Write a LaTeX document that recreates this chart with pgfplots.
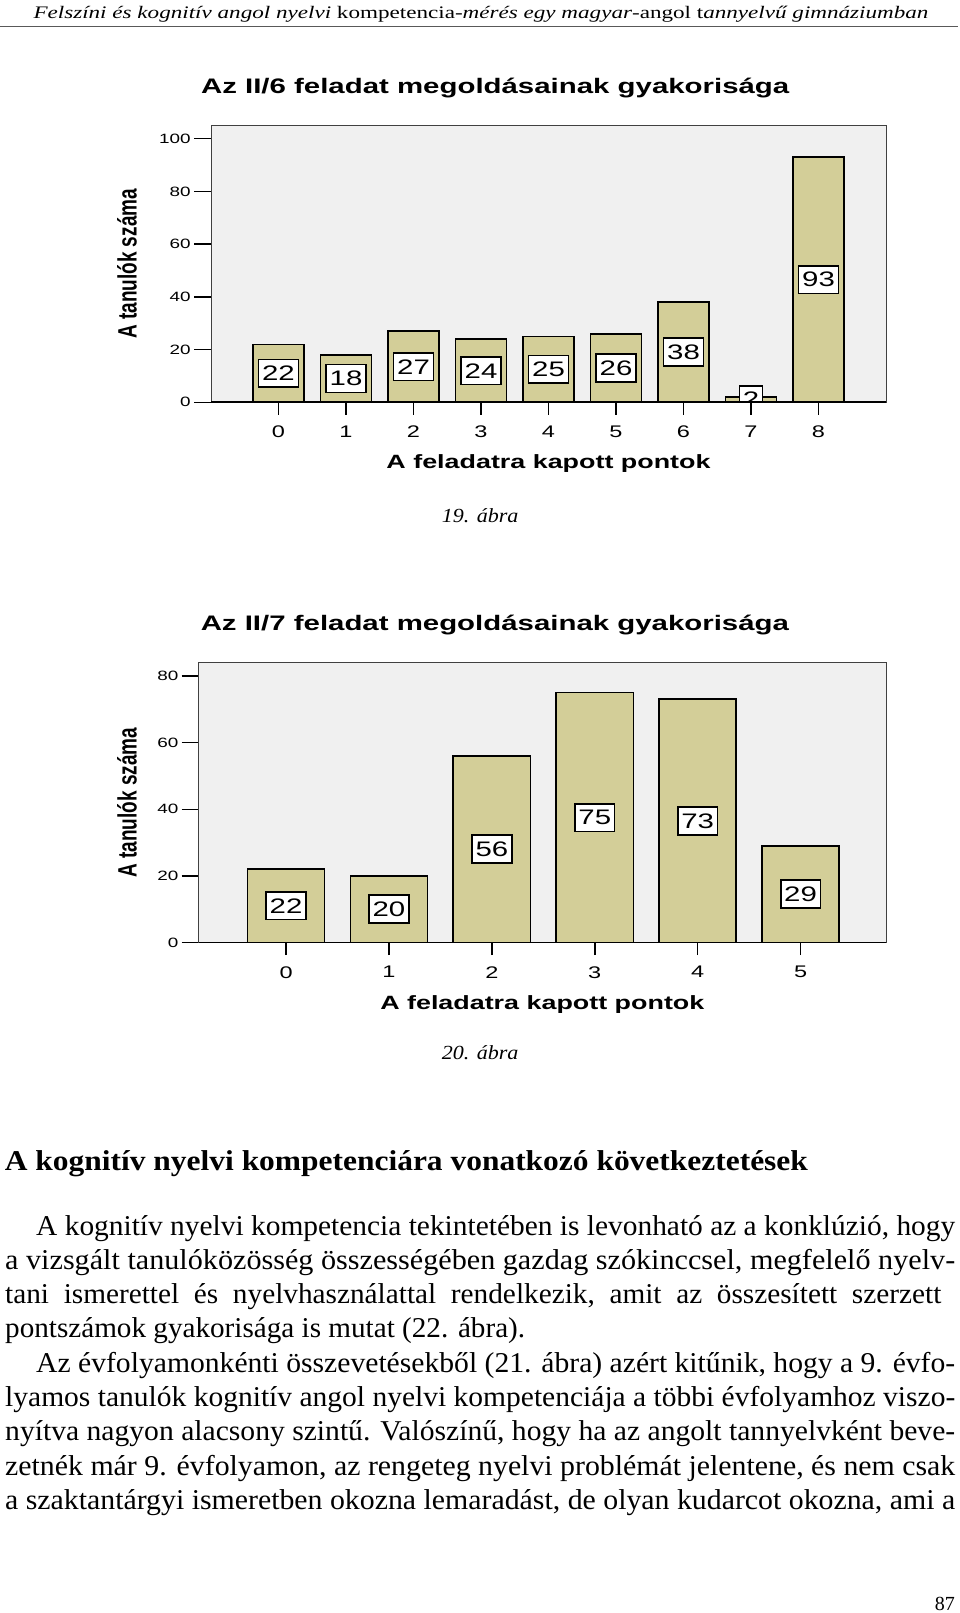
\documentclass[border=0pt]{standalone}
\usepackage{fontspec}
\usepackage{graphicx}
\usepackage{pgfplots}
\usepackage{pgfplotstable}
\pgfplotsset{compat=1.18}
\setmainfont{Liberation Serif}
\newfontfamily\ar[FakeStretch=1.4]{Liberation Sans}
\newfontfamily\arR[FakeStretch=0.714]{Liberation Sans}
\definecolor{bartan}{RGB}{211,206,152}
\definecolor{plotbg}{RGB}{240,240,240}
\newlength\fitlen
\newcommand\fitto[2]{\settowidth{\fitlen}{#2}\scalebox{\fpeval{(#1)/(\the\fitlen)}}[1]{#2}}
\newcommand\body{\fontsize{28.7}{34}\selectfont}

\pgfplotstableread{
x n
0 22
1 18
2 27
3 24
4 25
5 26
6 38
7 2
8 93
}\dataA
\pgfplotstableread{
x n
0 22
1 20
2 56
3 75
4 73
5 29
}\dataB

\pgfplotsset{
  spss/.style={
    scale only axis, anchor=south west,
    axis background/.style={fill=plotbg},
    axis line style={black!75, line width=0.8pt},
    xtick pos=bottom, ytick pos=left,
    tick align=outside,
    xtick style={black, line width=1.6pt, /pgfplots/major tick length=12.5pt},
    ytick style={black, line width=1.3pt, /pgfplots/major tick length=17pt},
    /pgf/number format/assume math mode=true,
    xticklabel style={font=\ar\fontsize{16.8}{16.8}\selectfont, yshift=-16pt},
    yticklabel style={font=\ar\fontsize{13.5}{13.5}\selectfont, xshift=-12.5pt},
    ymin=0,
    xlabel={A feladatra kapott pontok},
    ylabel={A tanulók száma},
    every axis x label/.style={font=\ar\bfseries\fontsize{19.2}{19.2}\selectfont, anchor=center},
    every axis y label/.style={font=\arR\bfseries\fontsize{26.6}{26.6}\selectfont, rotate=90, anchor=center},
    every axis title/.style={font=\ar\bfseries\fontsize{21}{21}\selectfont, anchor=center},
    baseline line/.style={extra description/.code={%
      ##1%
      \draw[black, line width=1.8pt] (axis description cs:0,0) -- (axis description cs:1,0);}},
  },
  barsty/.style={ybar, bar width=#1, fill=bartan, draw=black, line width=1.6pt},
  lblsty/.style={only marks, mark=*, mark size=0pt, color=black, nodes near coords, point meta=explicit,
    every node near coord/.append style={anchor=center, fill=white, draw=black, text=black, line width=1.6pt,
      inner xsep=3.5pt, inner ysep=6.5pt, font=\ar\fontsize{21}{21}\selectfont}},
}

\begin{document}
\begin{tikzpicture}
\path[use as bounding box] (0pt,0pt) rectangle (960pt,-1613pt);

% running header
\node[anchor=base west, inner sep=0pt] at (33.3pt,-18.3pt)
  {\fitto{895pt}{\fontsize{17.6}{20}\selectfont\itshape Felszíni és kognitív angol nyelvi \upshape kompetencia-\itshape mérés egy magyar\upshape -angol t\itshape annyelvű gimnáziumban}};
\draw[line width=1.6pt, black!65] (0pt,-26.5pt) -- (958pt,-26.5pt);

% ---------- Chart 19 ----------
\begin{axis}[spss,
  at={(211pt,-402.3pt)}, width=675pt, height=276.8pt,
  xmin=-1, xmax=9, ymax=105,
  xtick={0,1,...,8}, ytick={0,20,...,100},
  title={Az II/6 feladat megoldásainak gyakorisága},
  title style={at={(axis description cs:0.421,1.134)}},
  xlabel style={at={(axis description cs:0.5,-0.223)}},
  ylabel style={at={(axis description cs:-0.1244,0.5)}},
  % the label of the bar at 7 is cut off by the plot area's lower edge
  baseline line={\fill[white] (axis cs:6.6,0) rectangle (axis cs:7.4,-5.3);
                 \draw[black, line width=1.6pt] (axis cs:7,0) -- ++(0pt,-12.5pt);},
]
\addplot[barsty=0.76] table[x=x, y=n] {\dataA};
\addplot[lblsty] table[x=x, y expr=\thisrow{n}/2, meta=n] {\dataA};
\end{axis}
\node[anchor=base west, inner sep=0pt] at (441.7pt,-522.3pt)
  {\fitto{76.6pt}{\fontsize{20}{20}\selectfont\itshape 19. ábra}};

% ---------- Chart 20 ----------
\begin{axis}[spss,
  at={(198.6pt,-942.5pt)}, width=687.4pt, height=279.9pt,
  xmin=-0.85, xmax=5.83, ymax=84,
  xtick={0,1,...,5}, ytick={0,20,...,80},
  title={Az II/7 feladat megoldásainak gyakorisága},
  title style={at={(axis description cs:0.431,1.136)}},
  xlabel style={at={(axis description cs:0.5,-0.223)}},
  ylabel style={at={(axis description cs:-0.104,0.5)}},
  baseline line={},
]
\addplot[barsty=0.75] table[x=x, y=n] {\dataB};
\addplot[lblsty] table[x=x, y expr=\thisrow{n}/2, meta=n] {\dataB};
\end{axis}
\node[anchor=base west, inner sep=0pt] at (441.7pt,-1059.4pt)
  {\fitto{76.6pt}{\fontsize{20}{20}\selectfont\itshape 20. ábra}};

% ---------- Text ----------
\node[anchor=base west, inner sep=0pt] at (4.7pt,-1170.7pt)
  {\fitto{803pt}{\body\bfseries A kognitív nyelvi kompetenciára vonatkozó következtetések}};

\node[anchor=base west, inner sep=0pt] at (36pt,-1235pt)
  {\fitto{919pt}{\body A kognitív nyelvi kompetencia tekintetében is levonható az a konklúzió, hogy}};
\node[anchor=base west, inner sep=0pt] at (5pt,-1269.3pt)
  {\fitto{950pt}{\body a vizsgált tanulóközösség összességében gazdag szókinccsel, megfelelő nyelv-}};
\node[anchor=base west, inner sep=0pt] at (5pt,-1303.6pt)
  {\fitto{936pt}{\body tani\ \ ismerettel\ \ és\ \ nyelvhasználattal\ \ rendelkezik,\ \ amit\ \ az\ \ összesített\ \ szerzett}};
\node[anchor=base west, inner sep=0pt] at (5pt,-1337.9pt)
  {\fitto{520pt}{\body pontszámok gyakorisága is mutat (22. ábra).}};
\node[anchor=base west, inner sep=0pt] at (36pt,-1372.2pt)
  {\fitto{919pt}{\body Az évfolyamonkénti összevetésekből (21. ábra) azért kitűnik, hogy a 9. évfo-}};
\node[anchor=base west, inner sep=0pt] at (5pt,-1406.5pt)
  {\fitto{950pt}{\body lyamos tanulók kognitív angol nyelvi kompetenciája a többi évfolyamhoz viszo-}};
\node[anchor=base west, inner sep=0pt] at (5pt,-1440.8pt)
  {\fitto{950pt}{\body nyítva nagyon alacsony szintű. Valószínű, hogy ha az angolt tannyelvként beve-}};
\node[anchor=base west, inner sep=0pt] at (5pt,-1475.1pt)
  {\fitto{950pt}{\body zetnék már 9. évfolyamon, az rengeteg nyelvi problémát jelentene, és nem csak}};
\node[anchor=base west, inner sep=0pt] at (5pt,-1509.4pt)
  {\fitto{950pt}{\body a szaktantárgyi ismeretben okozna lemaradást, de olyan kudarcot okozna, ami a}};

\node[anchor=base east, inner sep=0pt] at (955pt,-1610pt)
  {\fontsize{20}{20}\selectfont 87};
\end{tikzpicture}
\end{document}
